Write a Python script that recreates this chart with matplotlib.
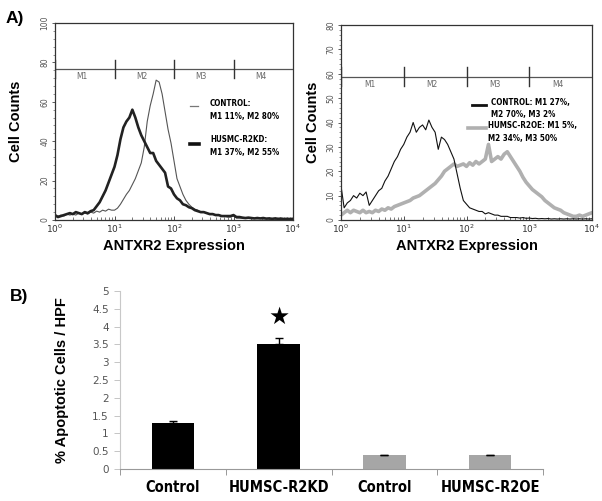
import numpy as np
import matplotlib
matplotlib.use("Agg")
import matplotlib.pyplot as plt
from matplotlib.ticker import FixedLocator, NullFormatter, LogLocator, MultipleLocator

# ---------------- data ----------------
decades = np.linspace(0, 4, 81)          # histogram channels (log10 of expression)
expression = 10 ** decades

# Panel A left: CONTROL (thin) and HUSMC-R2KD (thick)
left_control = [1.5, 2, 2.5, 2, 3, 2.5, 3, 2.5, 3.5, 3, 3.5, 3, 4, 3.5, 4.5, 4, 5, 4.5, 5.5, 5,
                5, 6, 8, 10.5, 13, 15, 18, 21, 25, 29, 37, 50, 58, 64, 71, 70, 64, 55, 46, 39,
                30, 21, 17, 13, 10, 8, 6.5, 5.5, 5, 4, 4, 3.5, 3, 3, 2.5, 2.5, 2, 2, 1.5, 1.5,
                2, 1, 1, 1, 0.8, 1, 0.7, 0.8, 0.6, 0.8, 0.5, 0.7, 0.5, 0.6, 0.5, 0.5, 0.6, 0.4, 0.5, 0.4, 0.5]
left_r2kd = [2.5, 1.5, 2, 2.5, 3, 3.5, 3, 4, 3.5, 3, 4, 3.5, 4.5, 5, 7, 9, 12, 15, 19, 23,
             27, 33, 41, 47, 50, 52, 56, 52, 47, 43, 40, 37, 34, 34, 30, 28, 26, 24, 17, 16,
             13, 11, 10, 8, 7.5, 6.5, 6, 5, 4.5, 4, 4, 3.5, 3, 3, 2.5, 2.5, 2, 2, 2, 2,
             2.5, 1.5, 1.5, 1.2, 1, 1.2, 1, 0.8, 1, 0.8, 1, 0.7, 0.8, 0.6, 0.8, 0.6, 0.7, 0.5, 0.6, 0.5, 0.6]

# Panel A right: CONTROL (thin black) and HUMSC-R2OE (thick gray)
right_control = [14, 5, 7, 8, 10, 9, 11, 10, 11.5, 6, 8, 10, 12, 13, 16, 18, 21, 24, 26, 29,
                 31, 34, 36, 40, 36, 38, 39, 37, 41, 38, 36, 29, 34, 33, 31, 28, 25, 19, 13, 8,
                 6.5, 5, 4.5, 4, 3.5, 3.5, 2.5, 3, 2.5, 2, 2, 1.5, 1.5, 1.5, 1, 1, 1, 0.8, 1, 0.7,
                 0.8, 0.6, 0.7, 0.5, 0.6, 0.5, 0.6, 0.4, 0.5, 0.4, 0.5, 0.4, 0.5, 0.4, 0.5, 0.4, 0.5, 0.4, 0.5, 0.4, 0.5]
right_r2oe = [2, 3, 4, 3, 4, 3.5, 3, 4, 3, 3.5, 3, 4, 3.5, 4.5, 4, 5, 4.5, 5.5, 6, 6.5,
              7, 7.5, 8, 9, 9.5, 10, 11, 12, 13, 14, 15, 16.5, 18, 20, 21, 22, 23, 22, 22.5, 23,
              22, 23.5, 22.5, 24, 23, 24, 25, 31, 24, 25, 26, 25, 27, 28, 26, 24, 22, 20, 17.5, 15.5,
              14, 12.5, 11.5, 10.5, 9.5, 8, 7, 6, 5, 4.5, 4, 3, 2.5, 2, 1.5, 1.5, 2, 1.5, 2, 2.5, 3]

left_legend = ["CONTROL:\nM1 11%, M2 80%", "HUSMC-R2KD:\nM1 37%, M2 55%"]
right_legend = ["CONTROL: M1 27%,\nM2 70%, M3 2%", "HUMSC-R2OE: M1 5%,\nM2 34%, M3 50%"]
marker_names = ["M1", "M2", "M3", "M4"]
marker_bounds = [1, 10, 100, 1000, 10000]

# Panel B
categories = ["Control", "HUMSC-R2KD", "Control", "HUMSC-R2OE"]
apoptotic = [1.3, 3.5, 0.38, 0.38]
apoptotic_err = [0.05, 0.17, 0.02, 0.02]
bar_colors = ["#000000", "#000000", "#a6a6a6", "#a6a6a6"]
significant = [False, True, False, False]

# ---------------- figure ----------------
W, H = 602, 501
fig = plt.figure(figsize=(W / 100, H / 100), dpi=100)
fig.patch.set_facecolor("white")

NARROW = ["DejaVu Sans"]
BOLD = ["Liberation Sans", "DejaVu Sans"]
COND = dict(family=NARROW, stretch="condensed")


def ax_px(x0, y0, x1, y1):
    """axes rectangle from pixel box (left, top, right, bottom)"""
    return fig.add_axes([x0 / W, 1 - y1 / H, (x1 - x0) / W, (y1 - y0) / H])


def hist_axes(ax, ymax, ystep, marker_y, tick_half):
    ax.set_xscale("log")
    ax.set_xlim(1, 10000)
    ax.set_ylim(0, ymax)
    for s in ax.spines.values():
        s.set_color("#333333")
        s.set_linewidth(0.9)
    ax.yaxis.set_major_locator(MultipleLocator(ystep))
    ax.yaxis.set_minor_locator(MultipleLocator(ystep / 5))
    ax.tick_params(axis="y", which="major", labelsize=5.5, labelcolor="#555555",
                   labelrotation=90, length=2.5, width=0.6, pad=1.5, color="#444444")
    ax.tick_params(axis="y", which="minor", length=1.3, width=0.5, color="#666666")
    for lab in ax.get_yticklabels():
        lab.set_va("center")
    ax.xaxis.set_major_locator(LogLocator(base=10, numticks=10))
    ax.xaxis.set_minor_locator(LogLocator(base=10, subs=np.arange(2, 10), numticks=10))
    ax.xaxis.set_minor_formatter(NullFormatter())
    ax.tick_params(axis="x", which="major", labelsize=6.5, labelcolor="#333333",
                   length=3, width=0.6, direction="in", pad=2, color="#333333")
    ax.tick_params(axis="x", which="minor", length=2, width=0.5, direction="in", color="#444444")
    # marker gates
    ax.plot([marker_bounds[0], marker_bounds[-1]], [marker_y, marker_y], color="#555555", lw=0.9, zorder=3)
    for b in marker_bounds[:-1]:
        ax.plot([b, b], [marker_y - tick_half, marker_y + tick_half], color="#333333", lw=1.0, zorder=3)
    for i, name in enumerate(marker_names):
        xc = np.sqrt(marker_bounds[i] * marker_bounds[i + 1])
        ax.text(xc * 0.9, marker_y - tick_half * 0.35, name, ha="center", va="top",
                fontsize=6, color="#666666", **COND)
    ax.set_ylabel("Cell Counts", fontsize=10.5, fontweight="bold", family=BOLD, labelpad=4)
    ax.set_xlabel("ANTXR2 Expression", fontsize=10.5, fontweight="bold", family=BOLD, labelpad=3)


# ---- left histogram ----
axL = ax_px(55, 23, 293, 220)
hist_axes(axL, 100, 20, 76.5, 4.5)
axL.plot(expression, left_control, color="#555555", lw=0.8, zorder=2)
axL.plot(expression, left_r2kd, color="#222222", lw=1.9, zorder=2)
axL.yaxis.set_label_coords(-0.135, 0.5)

# ---- right histogram ----
axR = ax_px(341, 25, 592, 220)
hist_axes(axR, 80, 10, 58.8, 3.8)
axR.plot(expression, right_r2oe, color="#b0b0b0", lw=2.6, zorder=2)
axR.plot(expression, right_control, color="#111111", lw=0.8, zorder=2)
axR.yaxis.set_label_coords(-0.085, 0.5)


def fig_text(x, y, s, **kw):
    fig.text(x / W, 1 - y / H, s, **kw)


def fig_line(x0, x1, y, **kw):
    fig.add_artist(plt.Line2D([x0 / W, x1 / W], [1 - y / H, 1 - y / H], transform=fig.transFigure, **kw))


# legends (drawn in figure pixel space)
LEG = dict(fontsize=5.8, fontweight="bold", va="center", linespacing=1.55, **COND)
fig_line(190, 198, 106, color="#777777", lw=0.9)
fig_text(210, 110, left_legend[0], **LEG)
fig_line(190, 199, 144, color="#111111", lw=2.6)
fig_text(210, 146, left_legend[1], **LEG)

fig_line(472, 486, 105, color="#111111", lw=2.0)
fig_text(491, 108.5, right_legend[0], **LEG)
fig_line(468, 486, 128, color="#b0b0b0", lw=2.6)
fig_text(488, 132, right_legend[1], **LEG)

fig_text(6, 18, "A)", fontsize=12.5, fontweight="bold", family=BOLD, va="center")
fig_text(10, 296, "B)", fontsize=12.5, fontweight="bold", family=BOLD, va="center")

# ---- bar chart ----
axB = ax_px(120, 291, 543, 469)
xpos = np.arange(len(categories))
axB.bar(xpos, apoptotic, width=0.4, color=bar_colors, zorder=2)
axB.errorbar(xpos, apoptotic, yerr=[[0] * len(apoptotic), apoptotic_err], fmt="none",
             ecolor="#000000", elinewidth=1.0, capsize=3, capthick=1.0, zorder=3)
for i, sig in enumerate(significant):
    if sig:
        axB.text(xpos[i], apoptotic[i] + apoptotic_err[i] + 0.6, "\u2605", ha="center", va="center",
                 fontsize=17, family=["DejaVu Sans"], color="black")
axB.set_xlim(-0.5, len(categories) - 0.5)
axB.set_ylim(0, 5)
axB.set_yticks(np.arange(0, 5.01, 0.5))
axB.set_yticklabels([("%g" % v) for v in np.arange(0, 5.01, 0.5)])
axB.tick_params(axis="y", labelsize=7.5, labelcolor="#555555", length=4, width=0.6,
                color="#bbbbbb", pad=4)
axB.set_xticks(xpos)
axB.set_xticklabels(categories, fontsize=10.5, fontweight="bold", **COND)
axB.tick_params(axis="x", which="major", length=0, pad=8)
axB.xaxis.set_minor_locator(FixedLocator(np.arange(-0.5, len(categories), 1.0)))
axB.tick_params(axis="x", which="minor", length=4, width=0.6, color="#888888")
axB.spines["top"].set_visible(False)
axB.spines["right"].set_visible(False)
axB.spines["left"].set_color("#c8c8c8")
axB.spines["left"].set_linewidth(0.8)
axB.spines["bottom"].set_color("#999999")
axB.spines["bottom"].set_linewidth(0.8)
axB.set_ylabel("% Apoptotic Cells / HPF", fontsize=10.5, fontweight="bold", family=BOLD)
axB.yaxis.set_label_coords(-0.12, 0.5)

fig.savefig("out.png", dpi=100, facecolor="white")
